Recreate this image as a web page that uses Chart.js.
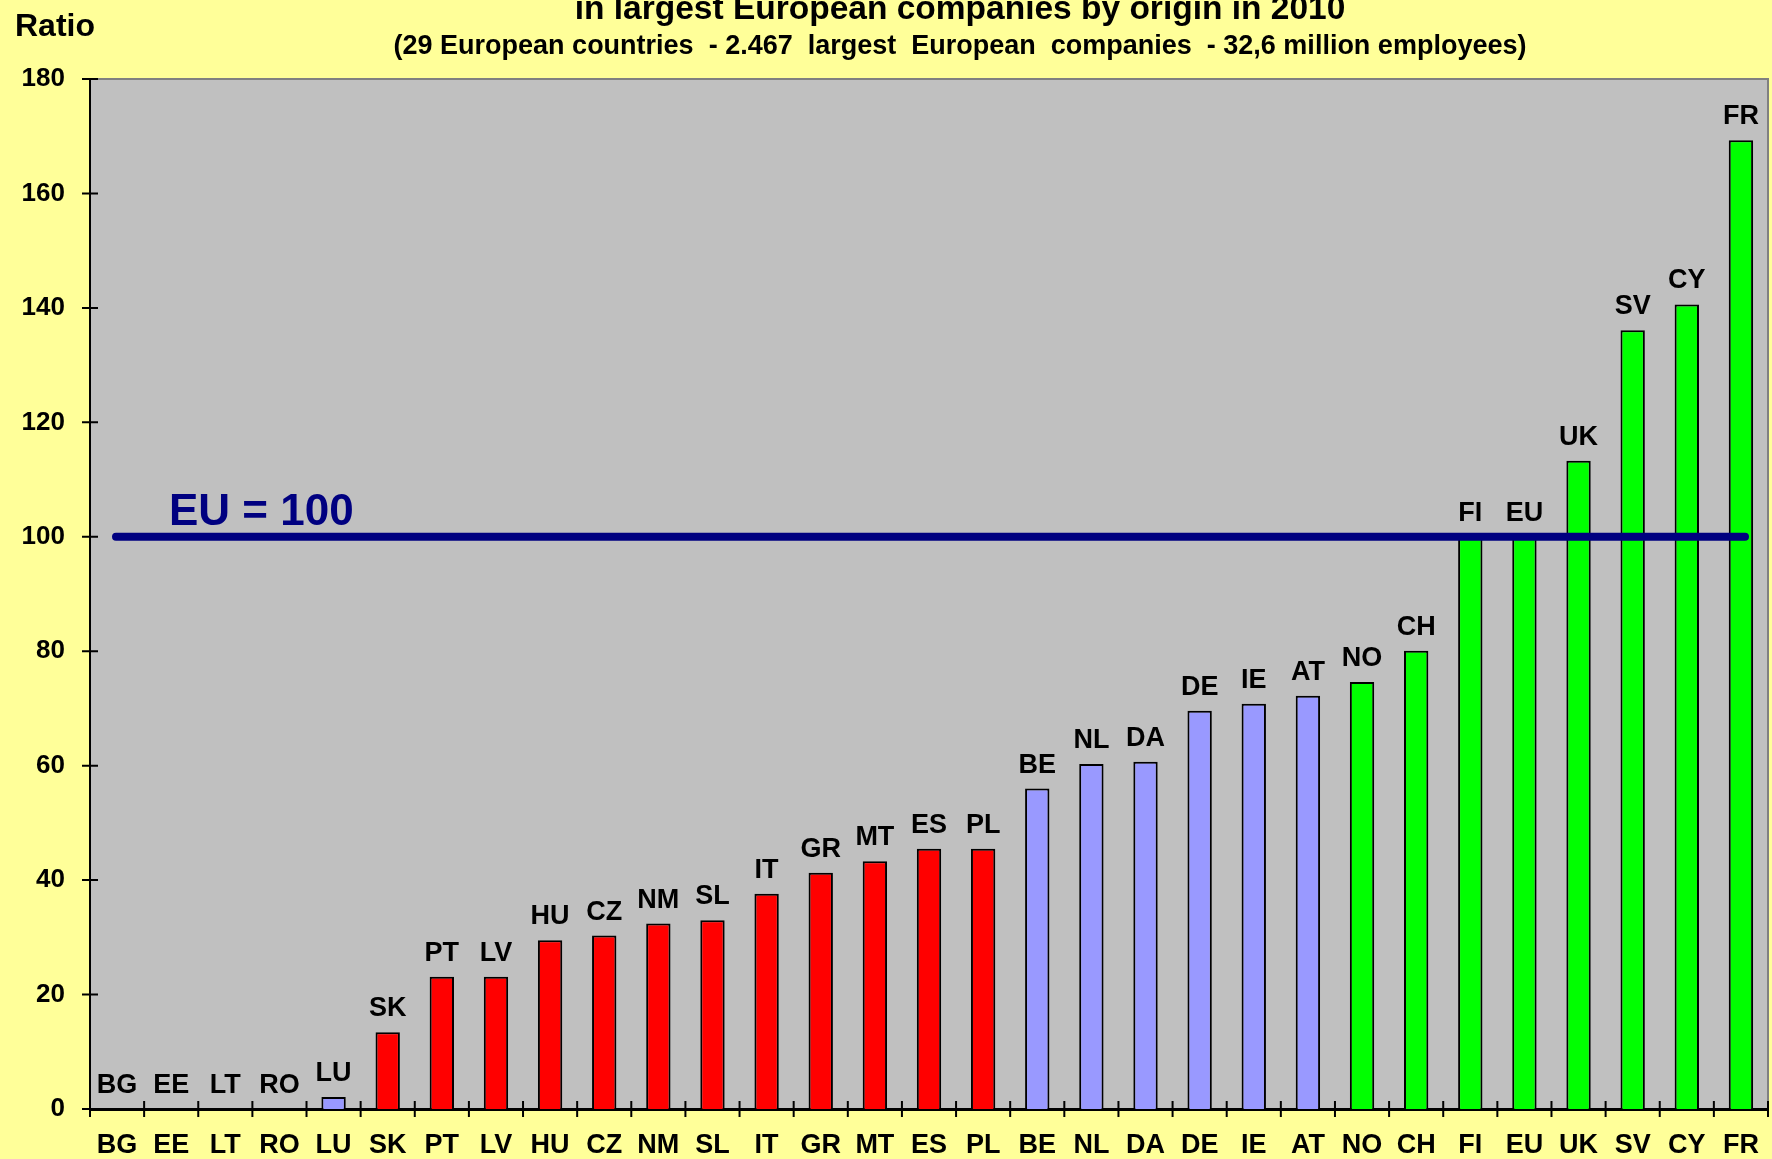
<!DOCTYPE html>
<html>
<head>
<meta charset="utf-8">
<script src="https://cdn.jsdelivr.net/npm/chart.js@4.4.0/dist/chart.umd.min.js"></script>
<style>
  body { margin: 0; background: #FFFF99; }
  canvas { display: block; }
</style>
</head>
<body>
<canvas id="myChart" width="1772" height="1159"></canvas>
<script>
var countries = ['BG', 'EE', 'LT', 'RO', 'LU', 'SK', 'PT', 'LV', 'HU', 'CZ', 'NM', 'SL', 'IT', 'GR', 'MT', 'ES', 'PL',
    'BE', 'NL', 'DA', 'DE', 'IE', 'AT', 'NO', 'CH', 'FI', 'EU', 'UK', 'SV', 'CY', 'FR'];
var ratios = [0, 0, 0, 0, 2.1, 13.4, 23.1, 23.1, 29.5, 30.3, 32.4, 33.0, 37.6, 41.3, 43.3, 45.5, 45.5,
    56.0, 60.3, 60.7, 69.6, 70.8, 72.2, 74.6, 80.1, 100, 100, 113.3, 136.1, 140.6, 169.3];
// group per country: r = red, b = lavender, g = green
var groups = ['b', 'b', 'b', 'b', 'b', 'r', 'r', 'r', 'r', 'r', 'r', 'r', 'r', 'r', 'r', 'r', 'r',
    'b', 'b', 'b', 'b', 'b', 'b', 'g', 'g', 'g', 'g', 'g', 'g', 'g', 'g'];
var yTicks = [0, 20, 40, 60, 80, 100, 120, 140, 160, 180];
var euLevel = 100;

var groupColors = { r: '#FF0000', b: '#9999FF', g: '#00FF00' };
var FONT = '"Liberation Sans", Arial, sans-serif';

var decorations = {
    id: 'decorations',
    beforeDraw: function (chart) {
        var c = chart.ctx, a = chart.chartArea;
        c.save();
        c.fillStyle = '#FFFF99';
        c.fillRect(0, 0, chart.width, chart.height);
        c.fillStyle = '#C0C0C0';
        c.fillRect(a.left, a.top, a.right - a.left, a.bottom - a.top);
        // top / right frame
        c.strokeStyle = '#808080';
        c.lineWidth = 2;
        c.beginPath();
        c.moveTo(a.left, a.top);
        c.lineTo(a.right, a.top);
        c.lineTo(a.right, a.bottom);
        c.stroke();
        // titles
        c.fillStyle = '#000';
        c.textAlign = 'center';
        c.textBaseline = 'alphabetic';
        c.font = 'bold 33.5px ' + FONT;
        c.fillText('in largest European companies by origin in 2010', 960, 19);
        c.font = 'bold 27px ' + FONT;
        c.fillText('(29 European countries  - 2.467  largest  European  companies  - 32,6 million employees)', 960, 54);
        c.textAlign = 'left';
        c.font = 'bold 32px ' + FONT;
        c.fillText('Ratio', 15, 36);
        c.restore();
    },
    afterDraw: function (chart) {
        var c = chart.ctx, a = chart.chartArea;
        var xs = chart.scales.x, ys = chart.scales.y;
        c.save();
        c.strokeStyle = '#000';
        c.lineWidth = 2;
        c.beginPath();
        // y ticks crossing the axis
        yTicks.forEach(function (v) {
            var y = ys.getPixelForValue(v);
            c.moveTo(a.left - 8, y);
            c.lineTo(a.left + 8, y);
        });
        // x ticks between categories
        for (var i = 0; i <= countries.length; i++) {
            var x = xs.getPixelForValue(i - 0.5);
            c.moveTo(x, a.bottom - 8);
            c.lineTo(x, a.bottom + 8);
        }
        c.stroke();

        // EU = 100 line
        var yEu = ys.getPixelForValue(euLevel);
        c.strokeStyle = '#000080';
        c.lineWidth = 8;
        c.lineCap = 'round';
        c.beginPath();
        c.moveTo(a.left + 26, yEu);
        c.lineTo(a.right - 23, yEu);
        c.stroke();
        c.fillStyle = '#000080';
        c.font = 'bold 44px ' + FONT;
        c.textAlign = 'left';
        c.textBaseline = 'alphabetic';
        c.fillText('EU = 100', a.left + 79, yEu - 12);

        // labels above bars
        c.fillStyle = '#000';
        c.font = 'bold 27px ' + FONT;
        c.textAlign = 'center';
        chart.getDatasetMeta(0).data.forEach(function (el, i) {
            c.fillText(countries[i], el.x, el.y - 16);
        });
        c.restore();
    }
};

var ctx = document.getElementById('myChart').getContext('2d');
var myChart = new Chart(ctx, {
    type: 'bar',
    data: {
        labels: countries,
        datasets: [
            {
                label: 'Ratio',
                data: ratios,
                backgroundColor: groups.map(function (g) { return groupColors[g]; }),
                borderColor: '#000',
                borderWidth: 2,
                borderSkipped: 'bottom',
                categoryPercentage: 1,
                barPercentage: 0.45
            }
        ]
    },
    options: {
        responsive: false,
        animation: false,
        layout: { padding: { top: 79, right: 4, left: 0, bottom: 0 } },
        plugins: {
            legend: { display: false },
            tooltip: { enabled: false }
        },
        scales: {
            x: {
                grid: { display: false },
                border: { display: true, color: '#000', width: 3 },
                ticks: {
                    color: '#000',
                    font: { family: FONT, size: 27, weight: 'bold' },
                    padding: 12,
                    maxRotation: 0,
                    autoSkip: false
                },
                afterFit: function (s) { s.height = 50; }
            },
            y: {
                min: 0,
                max: 180,
                grid: { display: false },
                border: { display: true, color: '#000', width: 2 },
                afterBuildTicks: function (s) {
                    s.ticks = yTicks.map(function (v) { return { value: v }; });
                },
                ticks: {
                    color: '#000',
                    font: { family: FONT, size: 26, weight: 'bold' },
                    padding: 17
                },
                afterFit: function (s) { s.width = 90; }
            }
        }
    },
    plugins: [decorations]
});
</script>
</body>
</html>
